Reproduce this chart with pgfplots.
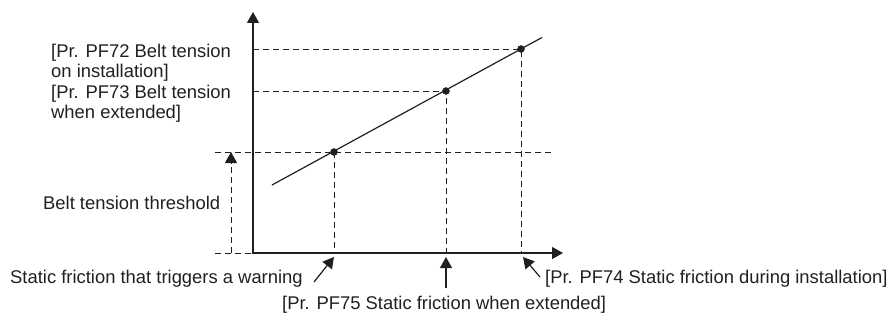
\documentclass[border=0pt]{standalone}
\usepackage{pgfplots}
\pgfplotsset{compat=1.18}
\usepackage{fontspec}
\setmainfont{Liberation Sans}
\usetikzlibrary{arrows.meta}
\definecolor{ink}{RGB}{35,31,32}
\tikzset{lbl/.style={inner sep=0pt, anchor=base west, text=ink,
    font=\fontsize{18.4bp}{21bp}\selectfont}}
\begin{document}
\begin{tikzpicture}
\begin{axis}[
  scale only axis, width=890bp, height=315bp,
  xmin=0, xmax=890, ymin=0, ymax=315, y dir=reverse,
  hide axis, clip=false,
]
\path (rel axis cs:0,0) rectangle (rel axis cs:1,1);
% dashed guides
\pgfplotsset{guide/.style={ink, line width=1bp, dash pattern=on 6bp off 4bp, no marks}}
\addplot[guide] coordinates {(253,49) (521,49) (521,253)};
\addplot[guide] coordinates {(253,91) (446,91) (446,253)};
\addplot[guide] coordinates {(215,152) (553,152)};
\addplot[guide] coordinates {(334,152) (334,253)};
\addplot[guide] coordinates {(215,253) (253,253)};
\addplot[guide, -{Triangle[length=11bp,width=12bp]}] coordinates {(231,253) (231,152)};
% axes
\draw[ink, line width=1.3bp, {Triangle[length=11bp,width=12bp]}-{Triangle[length=11bp,width=12bp]}]
  (axis cs:253,12) -- (axis cs:253,253) -- (axis cs:563,253);
% line and points
\addplot[ink, line width=1.2bp, no marks] coordinates {(272,185) (542,37.5)};
\addplot[ink, only marks, mark=*, mark size=3.5bp] coordinates {(334,152) (446,91) (521,49)};
% bottom arrows
\addplot[ink, line width=1.2bp, no marks, -{Triangle[length=11bp,width=12bp]}] coordinates {(314,282) (334,257)};
\addplot[ink, line width=1.2bp, no marks, -{Triangle[length=11bp,width=12bp]}] coordinates {(446,288) (446,257)};
\addplot[ink, line width=1.2bp, no marks, -{Triangle[length=11bp,width=12bp]}] coordinates {(540,277) (523,257)};
% labels
\node[lbl] at (axis cs:51,57) {[Pr. PF72 Belt tension};
\node[lbl] at (axis cs:51,77.5) {on installation]};
\node[lbl] at (axis cs:51,98) {[Pr. PF73 Belt tension};
\node[lbl] at (axis cs:51,118.5) {when extended]};
\node[lbl] at (axis cs:43,209) {Belt tension threshold};
\node[lbl] at (axis cs:10,283) {Static friction that triggers a warning};
\node[lbl] at (axis cs:282,309) {[Pr. PF75 Static friction when extended]};
\node[lbl] at (axis cs:545,283) {[Pr. PF74 Static friction during installation]};
\end{axis}
\end{tikzpicture}
\end{document}
